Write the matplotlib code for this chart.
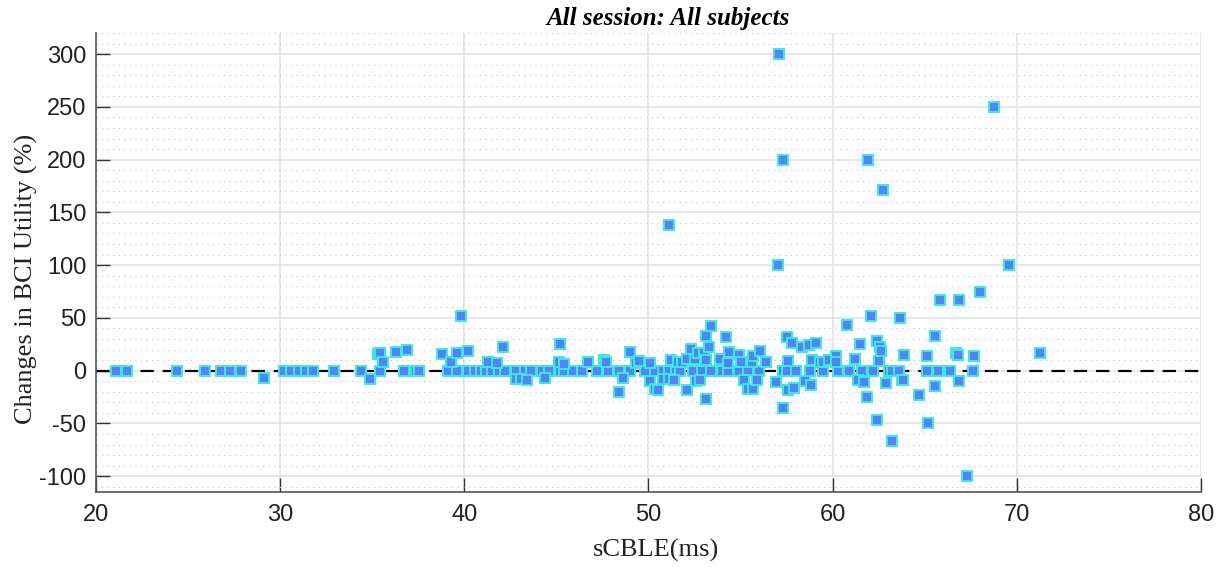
import matplotlib
matplotlib.use("Agg")
import matplotlib.pyplot as plt
from matplotlib.ticker import MultipleLocator

# sCBLE (ms) vs change in BCI utility (%)
zero_x = [21.1, 21.7, 24.4, 25.9, 26.8, 27.3, 27.9, 30.2, 30.6, 31.0, 31.4, 31.8,
          32.9, 34.4, 35.4, 36.7, 37.4, 37.55, 39.1, 39.6, 40.2, 40.6, 40.9, 41.2,
          41.5, 41.9, 42.2, 42.8, 43.3, 43.6, 44.2, 44.6, 45.2, 45.4, 45.9, 46.4,
          47.2, 47.8, 48.4, 49.0, 49.8, 50.35, 50.8, 51.1, 51.5, 51.7, 52.4,
          52.9, 53.4, 54.0, 54.3, 54.9, 55.4, 56.0, 57.3, 57.5, 58.0, 58.75, 59.5,
          60.3, 60.9, 61.6, 62.2, 63.05, 63.2, 63.6, 65.1, 65.7, 66.35, 67.6]

pts_x = [29.1, 34.9, 35.3, 35.4, 35.6, 36.3, 36.9, 38.8, 39.3, 39.6, 39.8, 40.2,
         41.3, 41.75, 42.1, 42.8, 43.1, 43.4, 44.4, 45.15, 45.2, 45.4, 46.7,
         47.6, 47.7, 48.6, 48.4, 49.0, 49.3, 49.5, 50.1, 50.1, 50.35, 50.5, 50.8,
         51.1, 51.4, 51.2, 51.6, 51.1, 51.8, 52.1, 52.3, 52.5, 52.7, 53.0, 53.15,
         53.15, 53.4, 53.3, 54.2, 52.1, 52.6, 52.8, 53.1, 53.9, 54.35, 54.3, 54.9,
         55.05, 55.6, 55.7, 56.05, 56.4, 55.2, 55.4, 55.7, 55.9, 56.9, 57.3, 57.5,
         57.8, 58.35, 58.7, 59.1, 57.6, 57.6, 57.9, 58.5, 58.8, 58.9, 59.3, 62.07,
         63.65, 60.8, 61.5, 62.4, 62.55, 62.6, 63.9, 65.1, 59.45, 59.8, 60.2,
         60.2, 61.2, 62.5, 61.35, 61.7, 62.9, 63.75, 61.85, 62.4, 63.2, 64.7,
         65.2, 68.0, 65.85, 66.85, 65.55, 66.7, 66.8, 67.7, 71.25, 63.8, 65.55,
         66.85, 67.3, 57.1, 57.3, 57.05, 61.9, 62.75, 68.75, 69.6]

pts_y = [-7, -8, 16, 17, 8.5, 18, 20, 16, 8, 16.5, 52, 19,
         8.5, 7, 22, -8, -8, -9, -7, 8.5, 25, 6, 8,
         10, 8.5, -7, -20, 18, 7, 9, 7, -9.5, -17, -18, -8,
         -8, -8.5, 10, 8, 138, 8, 11.5, 20.5, 11, 16.5, 17, 10,
         32.5, 42, 22, 31.5, -18, -10, -9, -26.5, 11.5, 17.5, 7, 15,
         8, 8, 14, 19, 8.5, -8.5, -17, -17.5, -9, -11, -35.5, 31.5,
         26, 22, 24.5, 26, 9, -18, -16, -10, -14, 10, 8, 52,
         50, 43, 25, 28.5, 22, 19, 15, 14, 8, 10, 14,
         8.5, 11, 9.5, -8.5, -11, -12, -9, -25, -46.5, -67, -23,
         -50, 75, 66.5, 66.5, 33, 16.5, 15, 13.5, 16.5, -9, -15,
         -10, -100, 300, 200, 100, 200, 171, 250, 100]

xs = zero_x + pts_x
ys = [0] * len(zero_x) + pts_y

fig = plt.figure(figsize=(12.27, 5.67), dpi=100)
ax = fig.add_axes([0.0782, 0.1323, 0.9006, 0.8095])

ax.set_xlim(20, 80)
ax.set_ylim(-115, 320)
ax.xaxis.set_major_locator(MultipleLocator(10))
ax.yaxis.set_major_locator(MultipleLocator(50))
ax.yaxis.set_minor_locator(MultipleLocator(10))

ax.grid(True, which="major", color="#e3e3e3", linewidth=1.2)
ax.grid(True, which="minor", axis="y", color="#c4c4c4", linestyle=(0, (1, 4)), linewidth=0.8)
ax.set_axisbelow(True)

ax.axhline(0, color="black", linestyle=(0, (6, 4)), linewidth=1.6, zorder=2)
ax.plot(xs, ys, linestyle="none", marker="s", markersize=6.5,
        markerfacecolor="#4f84fa", markeredgecolor="#3ee8dc", markeredgewidth=1.4, zorder=3)

for s in ["top", "right"]:
    ax.spines[s].set_visible(False)
for s in ["left", "bottom"]:
    ax.spines[s].set_color("#555555")
    ax.spines[s].set_linewidth(1.2)

ax.tick_params(which="major", direction="in", length=10, width=1.0, color="#333333",
               labelsize=17, labelcolor="#222222")
ax.tick_params(axis="x", which="major", pad=9)
ax.tick_params(axis="y", which="major", pad=7)
ax.tick_params(which="minor", length=0)
ax.set_yticks([-100, -50, 0, 50, 100, 150, 200, 250, 300])
ax.set_yticklabels(["-100", "-50", "0", "50", "100", "150", "200", "250", "300"])
for lbl in ax.get_xticklabels() + ax.get_yticklabels():
    lbl.set_family("Liberation Sans")

ax.set_xlabel("sCBLE(ms)", family="Liberation Serif", fontsize=19, color="#222222")
ax.xaxis.set_label_coords(0.507, -0.103)
ax.set_ylabel("Changes in BCI Utility (%)", family="Liberation Serif", fontsize=19,
              color="#222222")
ax.yaxis.set_label_coords(-0.052, 0.464)
ax.set_title("All session: All subjects", family="Liberation Serif", fontsize=18,
             fontweight="bold", fontstyle="italic", pad=6, x=0.518)

fig.savefig("out.png", dpi=100)
